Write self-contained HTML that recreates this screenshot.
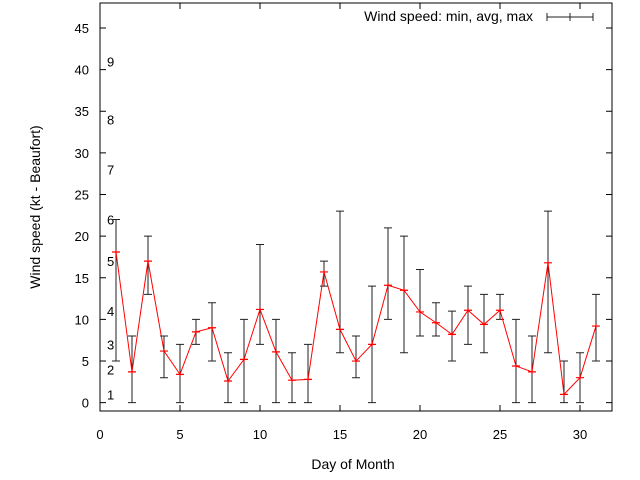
<!DOCTYPE html>
<html><head><meta charset="utf-8"><style>
html,body{margin:0;padding:0;background:#fff;}
svg{display:block;font-family:"Liberation Sans",sans-serif;}
</style></head><body>
<svg id="chart" width="640" height="480" viewBox="0 0 640 480" xmlns="http://www.w3.org/2000/svg">
<g id="g"></g>
</svg>
<script>
const days=[1,2,3,4,5,6,7,8,9,10,11,12,13,14,15,16,17,18,19,20,21,22,23,24,25,26,27,28,29,30,31];
const minVals=[5,0,13,3,0,7,5,0,0,7,0,0,0,14,6,3,0,10,6,8,8,5,7,6,10,0,0,6,0,0,5];
const avgVals=[18.1,3.7,17,6.2,3.4,8.5,9,2.6,5.2,11.2,6.1,2.7,2.8,15.7,8.8,5,7,14.1,13.5,10.9,9.6,8.2,11.1,9.4,11.1,4.4,3.7,16.8,1.0,3.0,9.2];
const maxVals=[22,8,20,8,7,10,12,6,10,19,10,6,7,17,23,8,14,21,20,16,12,11,14,13,13,10,8,23,5,6,13];
const xTicks=[0,5,10,15,20,25,30];
const yTicks=[0,5,10,15,20,25,30,35,40,45];
const beaufortLabels=["1","2","3","4","5","6","7","8","9"];
const beaufortKnots=[1,4,7,11,17,22,28,34,41];

const L=100,R=612,T=3,B=411,xMin=0,xMax=32,yMin=-1,yMax=48;
const sx=v=>L+(v-xMin)/(xMax-xMin)*(R-L);
const sy=v=>B-(v-yMin)/(yMax-yMin)*(B-T);
const NS="http://www.w3.org/2000/svg";
const g=document.getElementById('g');
function mk(tag,attrs,parent){const e=document.createElementNS(NS,tag);for(const k in attrs)e.setAttribute(k,attrs[k]);(parent||g).appendChild(e);return e;}

const frame=mk('rect',{x:L,y:T,width:R-L,height:B-T,fill:'none',stroke:'#000','stroke-width':1});



yTicks.forEach(v=>{
  const y=sy(v);
  const t=mk('path',{d:`M${L} ${y}h6M${R} ${y}h-6`,stroke:'#000','stroke-width':1});
  
  
  const lb=mk('text',{x:89,y:y+5,'text-anchor':'end','font-size':13,fill:'#000'});
  lb.textContent=v;
  
  
});
xTicks.forEach(v=>{
  const x=sx(v);
  const t=mk('path',{d:`M${x} ${B}v-6M${x} ${T}v6`,stroke:'#000','stroke-width':1});
  
  
  const lb=mk('text',{x:x,y:439,'text-anchor':'middle','font-size':13,fill:'#000'});
  lb.textContent=v;
  
  
});
beaufortLabels.forEach((s,i)=>{
  const lb=mk('text',{x:107,y:sy(beaufortKnots[i])+5,'text-anchor':'start','font-size':13,fill:'#000'});
  lb.textContent=s;
  
  
});

const xt=mk('text',{x:353,y:469,'text-anchor':'middle','font-size':14,fill:'#000'});
xt.textContent='Day of Month';


const yt=mk('text',{x:0,y:0,'text-anchor':'middle','font-size':14,fill:'#000',transform:'translate(40,207) rotate(-90)'});
yt.textContent='Wind speed (kt - Beaufort)';



const barCol='#222';
const lineCol='#f00';
days.forEach((dv,i)=>{
  const x=sx(dv),y1=sy(minVals[i]),y2=sy(maxVals[i]);
  const e=mk('path',{d:`M${x} ${y1}V${y2}M${x-4} ${y1}h8M${x-4} ${y2}h8`,stroke:barCol,'stroke-width':1,fill:'none'});
  
  
});
let d='';
days.forEach((dv,i)=>{d+=(i?'L':'M')+sx(dv)+' '+sy(avgVals[i]);});
const line=mk('path',{d:d,fill:'none',stroke:lineCol,'stroke-width':1});


days.forEach((dv,i)=>{
  const x=sx(dv),ya=sy(avgVals[i]);
  const m=mk('path',{d:`M${x-4} ${ya}h8M${x} ${ya-2}v4`,stroke:lineCol,'stroke-width':1.2,fill:'none'});
  
  
});

const lt=mk('text',{x:533,y:21,'text-anchor':'end','font-size':14,fill:'#000'});
lt.textContent='Wind speed: min, avg, max';


const ls=mk('path',{d:'M547 17H593M547 13v8M570 13v8M593 13v8',stroke:barCol,'stroke-width':1,fill:'none'});


</script>
</body></html>
